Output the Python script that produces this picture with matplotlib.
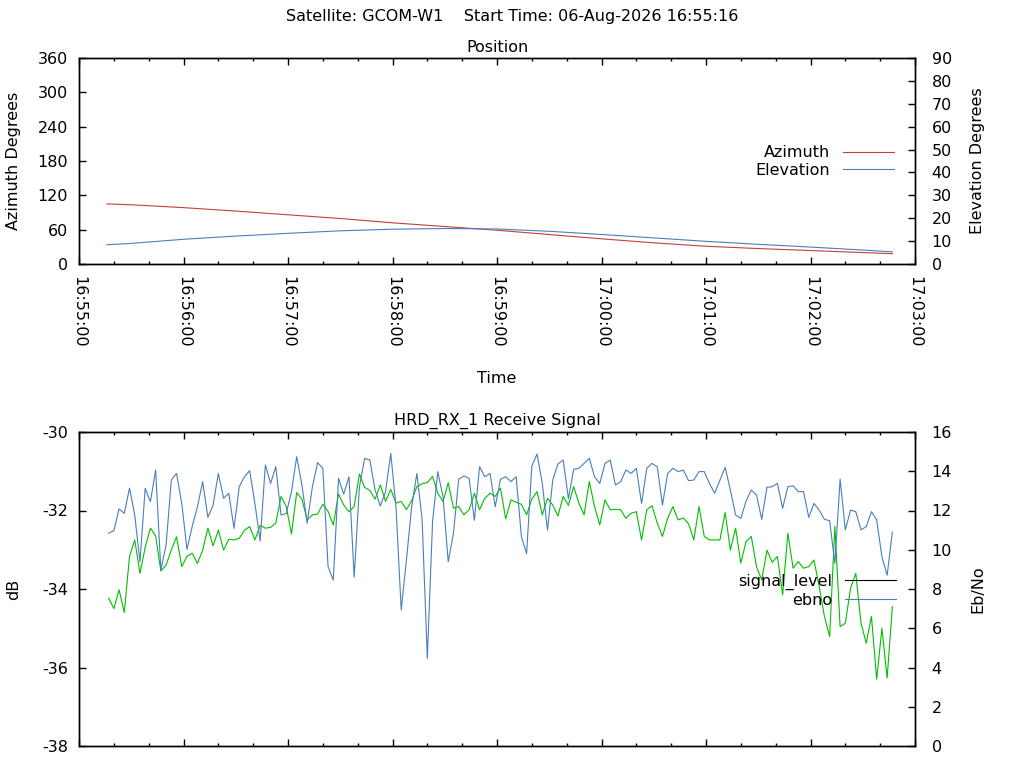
import pandas as pd
import matplotlib
matplotlib.use('Agg')
import matplotlib.pyplot as plt
import matplotlib.dates as mdates
from matplotlib.lines import Line2D

plt.rcParams['font.family'] = ['DejaVu Sans']
plt.rcParams['font.size'] = 11.5
plt.rcParams['axes.unicode_minus'] = False

# pass info
satellite = 'GCOM-W1'
start_time = pd.Timestamp('2026-08-06 16:55:16')

# position track (every 30 s)
pos_times = pd.to_datetime([
    '2026-08-06 16:55:16', '2026-08-06 16:55:30', '2026-08-06 16:56:00',
    '2026-08-06 16:56:30', '2026-08-06 16:57:00', '2026-08-06 16:57:30',
    '2026-08-06 16:58:00', '2026-08-06 16:58:30', '2026-08-06 16:59:00',
    '2026-08-06 16:59:30', '2026-08-06 17:00:00', '2026-08-06 17:00:30',
    '2026-08-06 17:01:00', '2026-08-06 17:01:30', '2026-08-06 17:02:00',
    '2026-08-06 17:02:30', '2026-08-06 17:02:47'])
azimuth = [105, 103.5, 98.5, 92.5, 86, 79.5, 72, 65.5, 59, 51.5, 44, 37,
           31, 27, 23.5, 20, 18]
elevation = [8.4, 9.0, 10.8, 12.2, 13.4, 14.5, 15.2, 15.5, 15.3, 14.3, 12.9,
             11.4, 9.9, 8.6, 7.4, 6.1, 5.3]

# receive signal, one sample every 3 s from 16:55:17
sig_start = pd.Timestamp('2026-08-06 16:55:17')
sig_step_s = 3
ebno = [
    10.84, 10.97, 12.08, 11.85, 13.14, 11.77, 9.39, 13.13, 12.45, 14.06,
    8.97, 10.24, 13.55, 13.89, 12.36, 10.02, 11.18, 12.19, 13.47, 11.65,
    12.28, 13.89, 12.62, 12.87, 11.09, 13.21, 13.72, 14.03, 12.36, 10.45,
    14.32, 13.38, 14.23, 11.77, 11.85, 12.96, 14.74, 13.30, 11.35, 13.21,
    14.44, 14.15, 9.14, 8.45, 13.64, 12.84, 13.72, 8.60, 13.21, 14.66,
    14.57, 13.04, 12.23, 12.96, 14.91, 12.19, 6.93, 9.48, 12.19, 13.89,
    11.55, 4.47, 11.43, 13.98, 12.70, 9.39, 10.84, 13.59, 13.76, 13.64,
    11.50, 14.23, 13.72, 13.89, 12.19, 13.59, 13.72, 13.47, 13.72, 10.67,
    9.80, 14.27, 14.88, 13.38, 11.00, 13.55, 14.37, 14.57, 12.60, 14.10,
    14.15, 14.40, 14.66, 13.72, 13.38, 14.40, 14.57, 13.30, 13.47, 14.06,
    13.89, 14.15, 12.36, 14.15, 14.40, 14.23, 12.28, 13.89, 14.15, 13.98,
    14.06, 13.52, 13.55, 13.98, 13.98, 13.38, 12.87, 13.55, 14.20, 13.04,
    11.77, 11.60, 12.48, 13.04, 12.79, 11.55, 13.18, 13.21, 13.38, 12.11,
    13.21, 13.26, 12.96, 12.96, 11.65, 12.36, 12.02, 11.55, 11.48, 9.30,
    13.60, 11.01, 12.02, 11.94, 11.01, 11.18, 11.94, 11.52, 9.65, 8.70,
    10.90]
signal_level = [
    -34.23, -34.50, -34.02, -34.60, -33.17, -32.75, -33.60, -32.94, -32.45, -32.65,
    -33.54, -33.39, -33.01, -32.67, -33.43, -33.17, -33.09, -33.35, -33.01, -32.45,
    -32.90, -32.50, -33.01, -32.73, -32.75, -32.71, -32.50, -32.41, -32.75, -32.38,
    -32.45, -32.43, -32.32, -31.64, -31.90, -32.60, -31.54, -31.71, -32.24, -32.11,
    -32.09, -31.84, -32.02, -32.37, -31.58, -31.86, -32.03, -31.90, -31.07, -31.41,
    -31.49, -31.71, -31.35, -31.77, -31.46, -31.81, -31.77, -31.98, -31.75, -31.39,
    -31.32, -31.29, -31.13, -31.56, -31.77, -31.29, -31.94, -31.90, -32.11, -31.98,
    -31.56, -31.98, -31.69, -31.56, -31.64, -31.43, -32.21, -31.73, -31.79, -31.84,
    -32.11, -31.71, -31.52, -32.11, -31.69, -31.86, -32.14, -31.64, -31.87, -31.39,
    -31.81, -32.11, -31.26, -31.90, -32.37, -31.73, -31.98, -31.97, -31.98, -32.20,
    -32.07, -32.03, -32.75, -31.98, -31.88, -32.32, -32.66, -32.20, -31.90, -32.24,
    -32.19, -32.34, -32.75, -31.90, -32.66, -32.75, -32.75, -32.75, -32.05, -33.01,
    -32.45, -33.34, -32.79, -32.66, -33.43, -33.77, -33.01, -33.32, -33.17, -34.15,
    -32.58, -33.47, -33.30, -33.47, -33.43, -33.26, -33.94, -34.70, -35.21, -32.40,
    -34.96, -34.87, -33.98, -33.60, -34.87, -35.38, -34.70, -36.30, -35.00, -36.27,
    -34.45]
sig_times = sig_start + pd.to_timedelta([i * sig_step_s for i in range(len(ebno))], unit='s')

x_start = pd.Timestamp('2026-08-06 16:55:00')
x_end = pd.Timestamp('2026-08-06 17:03:00')

red = '#c0403f'
blue = '#4a7ebb'
green = '#00c000'

fig = plt.figure(figsize=(10.24, 7.68), dpi=100)
fig.text(0.5, 1 - 17 / 768, 'Satellite: %s    Start Time: %s' % (satellite, start_time.strftime('%d-%b-%Y %H:%M:%S')),
         ha='center', va='center')


def style_time_axis(ax, labels):
    ax.set_xlim(x_start, x_end)
    ax.xaxis.set_major_locator(mdates.MinuteLocator())
    ax.xaxis.set_minor_locator(mdates.SecondLocator(bysecond=[20, 40]))
    ax.xaxis.set_major_formatter(mdates.DateFormatter('%H:%M:%S'))
    ax.tick_params(axis='x', which='both', direction='in', top=True, labelbottom=labels)
    ax.tick_params(axis='x', which='major', length=5, width=1, pad=9)
    ax.tick_params(axis='x', which='minor', length=2.5, width=1)
    if labels:
        for t in ax.get_xticklabels():
            t.set_rotation(270)
            t.set_ha('center')
            t.set_va('top')


def style_frame(ax):
    for s in ax.spines.values():
        s.set_linewidth(1)


def style_y(left, right, left_label, right_label):
    left.set_ylabel(left_label, va='center')
    right.set_ylabel(right_label, va='center')
    left.tick_params(axis='y', direction='in', length=5, width=1, pad=8)
    right.tick_params(axis='y', direction='in', length=5, width=1, pad=12)
    style_frame(left)
    style_frame(right)
    left.yaxis.set_label_coords(-0.078, 0.5)
    right.yaxis.set_label_coords(1.075, 0.5)


# ---- Position ----
ax1 = fig.add_axes([79 / 1024, 1 - 264 / 768, 836 / 1024, 206 / 768])
ax2 = ax1.twinx()
l_az, = ax1.plot(pos_times, azimuth, color=red, lw=0.8, label='Azimuth')
l_el, = ax2.plot(pos_times, elevation, color=blue, lw=0.8, label='Elevation')
ax1.set_ylim(0, 360)
ax1.set_yticks(range(0, 361, 60))
ax2.set_ylim(0, 90)
ax2.set_yticks(range(0, 91, 10))
style_time_axis(ax1, True)
ax1.set_title('Position', fontsize=11.5, pad=4)
style_y(ax1, ax2, 'Azimuth Degrees', 'Elevation Degrees')
ax1.set_xlabel('Time', va='center')
ax1.xaxis.set_label_coords(0.5, -0.558)
ax2.legend(handles=[l_az, l_el], loc='upper right', bbox_to_anchor=(0.975, 0.577),
           frameon=False, markerfirst=False, handlelength=3.2, labelspacing=0.17,
           borderpad=0, borderaxespad=0, handletextpad=0.8, fontsize=11.5)

# ---- Receive signal ----
ax3 = fig.add_axes([79 / 1024, 1 - 746 / 768, 836 / 1024, 314 / 768])
ax4 = ax3.twinx()
ax3.plot(sig_times, signal_level, color=green, lw=0.8)
ax4.plot(sig_times, ebno, color=blue, lw=0.8)
ax3.set_ylim(-38, -30)
ax3.set_yticks(range(-38, -29, 2))
ax4.set_ylim(0, 16)
ax4.set_yticks(range(0, 17, 2))
style_time_axis(ax3, False)
ax3.set_title('HRD_RX_1 Receive Signal', fontsize=11.5, pad=5)
style_y(ax3, ax4, 'dB', 'Eb/No')
handles = [Line2D([], [], color='black', lw=0.8, label='signal_level'),
           Line2D([], [], color=blue, lw=0.8, label='ebno')]
ax4.legend(handles=handles, loc='upper right', bbox_to_anchor=(0.977, 0.548),
           frameon=False, markerfirst=False, handlelength=3.2, labelspacing=0.17,
           borderpad=0, borderaxespad=0, handletextpad=0.8, fontsize=11.5)

fig.savefig('out.png', dpi=100)
